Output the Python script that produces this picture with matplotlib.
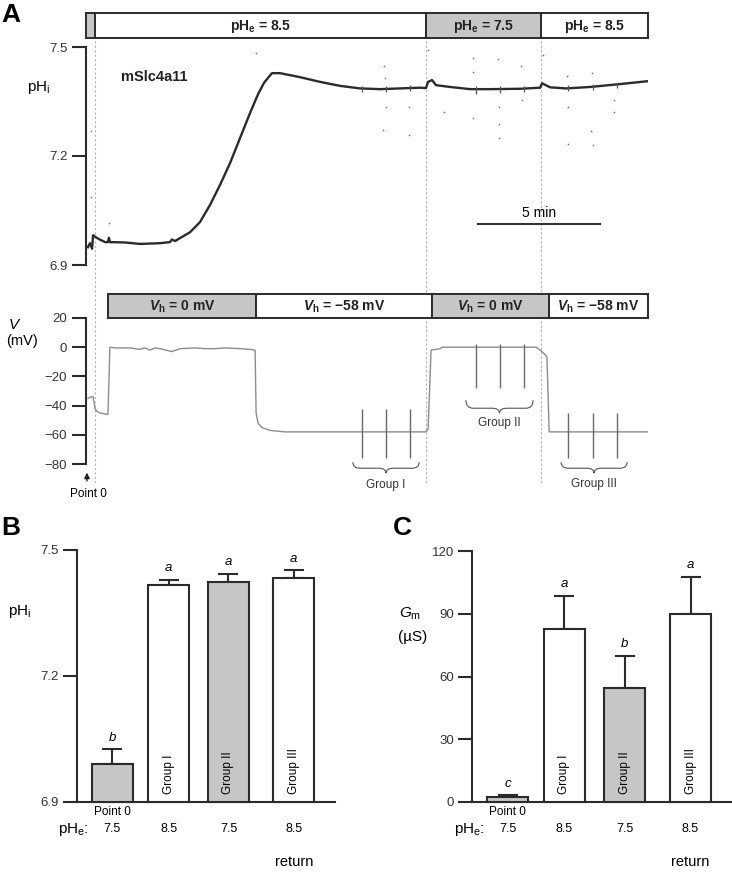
import numpy as np
import matplotlib
matplotlib.use('Agg')
import matplotlib.pyplot as plt
import matplotlib.transforms as mtransforms
from matplotlib.path import Path
from matplotlib.patches import PathPatch

plt.rcParams['font.family'] = ['Liberation Sans', 'DejaVu Sans']
plt.rcParams['mathtext.fontset'] = 'custom'
plt.rcParams['mathtext.rm'] = 'Liberation Sans'
plt.rcParams['mathtext.it'] = 'Liberation Sans:italic'
plt.rcParams['mathtext.bf'] = 'Liberation Sans:bold'
plt.rcParams['mathtext.bfit'] = 'Liberation Sans:italic:bold'

# ---- panel A: recordings (time in min) ----
ph_t = [0.08, 0.16, 0.25, 0.29, 0.41, 0.57, 0.78, 0.90, 0.94, 0.98, 1.60, 2.21, 3.03, 3.44,
        3.52, 3.65, 3.85, 4.26, 4.67, 5.08, 5.49, 5.90, 6.31, 6.72, 7.05, 7.30, 7.62, 7.95,
        8.77, 9.59, 10.41, 11.23, 12.05, 12.87, 13.69, 13.93, 14.02, 14.18, 14.34, 14.92,
        15.74, 16.56, 17.79, 18.61, 18.69, 19.02, 19.67, 20.66, 21.89, 23.03]
ph_v = [6.949, 6.960, 6.945, 6.982, 6.976, 6.970, 6.963, 6.963, 6.975, 6.963, 6.962, 6.958,
        6.960, 6.963, 6.970, 6.966, 6.974, 6.990, 7.018, 7.065, 7.120, 7.180, 7.249, 7.318,
        7.370, 7.402, 7.428, 7.428, 7.417, 7.404, 7.393, 7.386, 7.384, 7.386, 7.388, 7.387,
        7.404, 7.409, 7.395, 7.390, 7.384, 7.384, 7.385, 7.388, 7.400, 7.389, 7.386, 7.390,
        7.398, 7.406]
ph_dot_t = [12.21, 12.25, 12.30, 12.17, 13.24, 13.24, 14.02, 14.67, 15.86, 15.86, 15.86, 16.89,
            16.93, 16.93, 16.93, 17.83, 17.87, 18.73, 19.71, 19.75, 19.75, 20.74, 20.70, 20.78,
            21.64, 21.64, 6.97, 0.20, 0.20, 0.94]
ph_dot_v = [7.448, 7.415, 7.335, 7.271, 7.335, 7.258, 7.492, 7.321, 7.470, 7.431, 7.305, 7.467,
            7.335, 7.288, 7.250, 7.448, 7.354, 7.478, 7.420, 7.335, 7.233, 7.428, 7.269, 7.230,
            7.354, 7.321, 7.483, 7.269, 7.087, 7.016]

v_t = [0.08, 0.20, 0.29, 0.37, 0.45, 0.57, 0.86, 0.90, 0.98, 1.19, 1.80, 2.21, 2.42, 2.62,
       2.83, 3.03, 3.52, 3.85, 4.47, 4.88, 5.29, 5.70, 6.31, 6.72, 6.93, 6.97, 7.05, 7.21,
       7.54, 8.16, 13.93, 14.02, 14.14, 14.34, 14.51, 14.59, 18.44, 18.61, 18.81, 18.89,
       18.98, 23.03]
v_v = [-35, -34, -34, -42, -44, -45, -46, -46, 0, -0.5, -0.5, -1.5, -0.5, -2, -0.5, -1, -3, -1,
       -0.5, -1, -1, -0.5, -1, -1.5, -2, -45, -52, -55, -57, -58, -58, -56, -2, -1.5, -1, 0, 0,
       -2, -5, -7, -58, -58]

step_t = [11.31, 12.30, 13.28, 15.98, 16.97, 17.95, 19.75, 20.78, 21.76]
step_v_top = [-42, -42, -42, 2, 2, 2, -45, -45, -45]
step_v_bot = [-76, -76, -76, -28, -28, -28, -76, -76, -76]
step_ph_top = [7.394, 7.394, 7.396, 7.393, 7.393, 7.394, 7.396, 7.399, 7.402]
step_ph_bot = [7.376, 7.376, 7.378, 7.372, 7.374, 7.375, 7.378, 7.382, 7.386]

phe_edges = [0, 0.37, 13.93, 18.65, 23.03]
phe_values = ['', '8.5', '7.5', '8.5']
vh_edges = [0.90, 6.97, 14.18, 18.98, 23.03]
vh_values = ['0', '\u221258', '0', '\u221258']
cond_grey = [True, False, True, False]
switch_t = [0.37, 13.93, 18.65]

group_names = ['Group I', 'Group II', 'Group III']
group_span = [(10.94, 13.65), (15.57, 18.32), (19.47, 22.17)]

# ---- panels B and C: summary ----
bar_names = ['Point 0', 'Group I', 'Group II', 'Group III']
bar_phe = ['7.5', '8.5', '7.5', '8.5']
bar_grey = [True, False, True, False]
phi_mean = [6.990, 7.417, 7.424, 7.433]
phi_sem = [0.036, 0.012, 0.019, 0.019]
phi_sig = ['b', 'a', 'a', 'a']
gm_mean = [2.4, 82.7, 54.5, 89.9]
gm_sem = [0.9, 15.8, 15.3, 17.7]
gm_sig = ['c', 'a', 'b', 'a']

GREY = '#c6c6c6'
EDGE = '#2b2b2b'
W, H = 732, 873
fig = plt.figure(figsize=(W / 100, H / 100), dpi=100)


def px_axes(x0, y0, x1, y1):
    return fig.add_axes([x0 / W, 1 - y1 / H, (x1 - x0) / W, (y1 - y0) / H])


def fx(x):
    return x / W


def fy(y):
    return 1 - y / H


def left_axis(ax):
    for s in ['top', 'right', 'bottom']:
        ax.spines[s].set_visible(False)
    ax.spines['left'].set_linewidth(1.5)
    ax.spines['left'].set_color(EDGE)
    ax.set_xticks([])
    ax.tick_params(axis='y', length=10, width=1.5, pad=3.5, labelsize=9.5, color=EDGE,
                   labelcolor='#333333')
    ax.patch.set_visible(False)


def condition_bar(ax, edges, labels):
    ax.set_xlim(0, 23.03)
    ax.set_ylim(0, 1)
    ax.axis('off')
    left = np.array(edges[:-1])
    widths = np.diff(edges)
    bars = ax.barh(0.5, widths, left=left, height=1,
                   color=[GREY if g else 'white' for g in cond_grey],
                   edgecolor=EDGE, linewidth=1.4)
    for b in bars:
        b.set_clip_on(False)
    for l, w, s in zip(left, widths, labels):
        ax.text(l + w / 2, 0.45, s, ha='center', va='center', fontsize=10,
                fontweight='bold', color='#222222')


def brace(ax, t0, t1, ytop, ymid, ybot, d):
    tc = (t0 + t1) / 2
    verts = [(t0, ytop), (t0, ymid), (t0 + d, ymid), (tc - d, ymid), (tc, ymid), (tc, ybot),
             (tc, ymid), (tc + d, ymid), (t1 - d, ymid), (t1, ymid), (t1, ytop)]
    codes = [Path.MOVETO, Path.CURVE3, Path.CURVE3, Path.LINETO, Path.CURVE3, Path.CURVE3,
             Path.CURVE3, Path.CURVE3, Path.LINETO, Path.CURVE3, Path.CURVE3]
    ax.add_patch(PathPatch(Path(verts, codes), fill=False, edgecolor='#555555', lw=0.8,
                           clip_on=False))


# dashed lines marking solution changes (behind everything)
ov = px_axes(86, 38, 648, 483)
ov.set_xlim(0, 23.03)
ov.set_ylim(0, 1)
ov.axis('off')
ov.vlines(switch_t, 0, 1, colors='#b5b5b5', linestyles=(0, (2, 2)), lw=0.8)

# pHe bar
axb1 = px_axes(86, 13, 648, 38)
condition_bar(axb1, phe_edges,
              [r'pH$_\mathbf{e}$ = %s' % v if v else '' for v in phe_values])

# pHi trace
axp = px_axes(86, 47, 648, 265)
left_axis(axp)
axp.set_xlim(0, 23.03)
axp.set_ylim(6.9, 7.5)
axp.set_yticks([6.9, 7.2, 7.5])
axp.plot(ph_t, ph_v, color='#2b2b2b', lw=1.7, zorder=3)
axp.vlines(step_t, step_ph_bot, step_ph_top, colors='#555555', lw=0.9, zorder=3)
axp.scatter(ph_dot_t, ph_dot_v, s=1.5, color='#777777', lw=0, zorder=2)
axp.plot([16.07, 21.07], [7.012, 7.012], color='#333333', lw=1.5)
axp.text(18.57, 7.043, '5 min', ha='center', va='center', fontsize=10)
fig.text(fx(121), fy(77), 'mSlc4a11', fontsize=10.5, fontweight='bold', va='center',
         color='#222222')
fig.text(fx(27), fy(88), r'pH$_\mathregular{i}$', fontsize=11, va='center')

# Vh bar
axb2 = px_axes(86, 294, 648, 318)
condition_bar(axb2, vh_edges,
              [r'$\mathbfit{V}_\mathbf{h}$ = %s mV' % v for v in vh_values])

# voltage trace
axv = px_axes(86, 318, 648, 464)
left_axis(axv)
axv.set_xlim(0, 23.03)
axv.set_ylim(-80, 20)
axv.set_yticks([-80, -60, -40, -20, 0, 20])
axv.plot(v_t, v_v, color='#8c8c8c', lw=1.0)
axv.vlines(step_t, step_v_bot, step_v_top, colors='#6a6a6a', lw=1.0)
brace_y = [(-78.8, -82.9, -86.3), (-36.3, -41.8, -45.2), (-78.8, -82.9, -86.3)]
label_y = [-94.5, -52.0, -94.0]
for name, (t0, t1), (y0, y1, y2), ly in zip(group_names, group_span, brace_y, label_y):
    brace(axv, t0, t1, y0, y1, y2, 0.3)
    axv.text((t0 + t1) / 2, ly, name, ha='center', va='center', fontsize=8.5,
             color='#333333', clip_on=False)
axv.annotate('', xy=(0.04, -84), xytext=(0.04, -93.5), annotation_clip=False,
             arrowprops=dict(arrowstyle='-|>', color='#222222', lw=1.0, mutation_scale=8))
axv.text(0.1, -100.5, 'Point 0', ha='center', va='center', fontsize=8.5, clip_on=False)
fig.text(fx(8), fy(325), r'$V$', fontsize=11, va='center')
fig.text(fx(6), fy(341), '(mV)', fontsize=10.5, va='center')

# summary bar charts
xpos = np.array([0, 1, 2.06, 3.22])


def bar_panel(box, ylim, yticks, means, sems, sig, phe_x):
    ax = px_axes(*box)
    for s in ['top', 'right']:
        ax.spines[s].set_visible(False)
    for s in ['left', 'bottom']:
        ax.spines[s].set_linewidth(1.5)
        ax.spines[s].set_color(EDGE)
    ax.set_xlim(-0.628, 3.95)
    ax.set_ylim(*ylim)
    ax.set_xticks([])
    ax.set_yticks(yticks)
    ax.tick_params(axis='y', length=10, width=1.5, pad=3, labelsize=9.5, color=EDGE,
                   labelcolor='#333333')
    cols = [GREY if g else 'white' for g in bar_grey]
    bars = ax.bar(xpos, np.array(means) - ylim[0], bottom=ylim[0], width=0.726, color=cols,
                  edgecolor=EDGE, linewidth=1.5, zorder=3)
    for b in bars:
        b.set_clip_on(False)
    ax.errorbar(xpos, means, yerr=[np.zeros(4), sems], fmt='none', ecolor=EDGE,
                elinewidth=1.5, capsize=7.5, capthick=1.5, zorder=2)
    for x, m, e, s in zip(xpos, means, sems, sig):
        ax.annotate(s, (x, m + e), xytext=(0, 4), textcoords='offset points', ha='center',
                    va='bottom', fontsize=9.5, style='italic')
    for x, name in zip(xpos[1:], bar_names[1:]):
        ax.annotate(name, (x, ylim[0]), xytext=(0, 6), textcoords='offset points',
                    ha='center', va='bottom', rotation=90, fontsize=8.5)
    tr = mtransforms.blended_transform_factory(ax.transData, fig.transFigure)
    ax.text(xpos[0], fy(812), bar_names[0], transform=tr, ha='center', va='center',
            fontsize=8.5)
    for x, v in zip(xpos, bar_phe):
        ax.text(x, fy(829), v, transform=tr, ha='center', va='center', fontsize=9)
    fig.text(fx(phe_x), fy(829), r'pH$_\mathregular{e}$:', ha='right', va='center',
             fontsize=11)
    ax.text(xpos[3], fy(862), 'return', transform=tr, ha='center', va='center',
            fontsize=10.5)
    return ax


bar_panel((77, 550, 335, 802), (6.9, 7.5), [6.9, 7.2, 7.5], phi_mean, phi_sem, phi_sig, 89)
fig.text(fx(8), fy(612), r'pH$_\mathregular{i}$', fontsize=11, va='center')

bar_panel((472, 551, 732, 802), (0, 120), [0, 30, 60, 90, 120], gm_mean, gm_sem, gm_sig, 485)
fig.text(fx(399), fy(614), r'$G_\mathregular{m}$', fontsize=11, va='center')
fig.text(fx(398), fy(637), '(\u00b5S)', fontsize=11, va='center')

fig.text(fx(1), fy(15), 'A', fontsize=19, fontweight='bold', va='center')
fig.text(fx(1), fy(528), 'B', fontsize=19, fontweight='bold', va='center')
fig.text(fx(393), fy(528), 'C', fontsize=19, fontweight='bold', va='center')

fig.savefig('out.png', dpi=100)
